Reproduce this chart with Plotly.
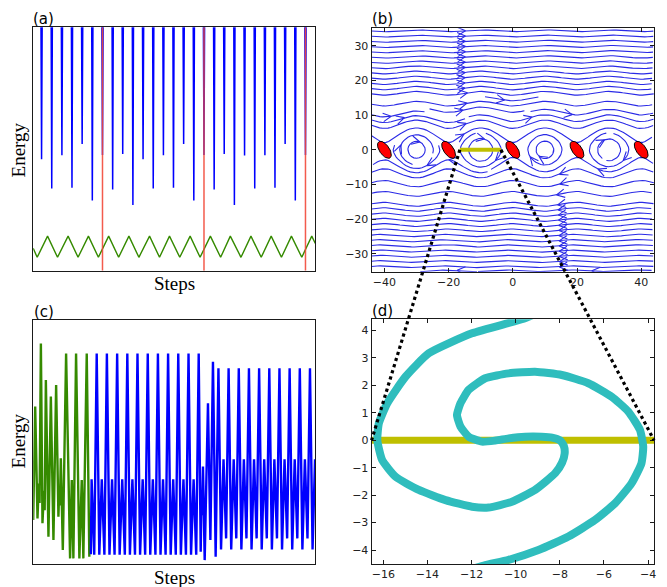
import math
import numpy as np
import plotly.graph_objects as go
import plotly.figure_factory as ff

W, H = 667, 587

# ---------------- panel (a) data ----------------
a_spike_steps = [8.4, 18.6, 28.8, 38.9, 49.1, 59.3, 69.5, 79.7, 89.8, 100.0,
                 110.2, 120.4, 130.6, 140.7, 150.9, 161.1, 171.3, 181.5, 191.6, 201.8,
                 212.0, 222.2, 232.4, 242.5, 252.7, 262.9, 273.1]
a_spike_energy = [45.8, 33.8, 47.4, 34.1, 52.1, 28.8, 47.5, 33.4, 47.9, 27.0,
                  45.8, 33.8, 47.4, 34.1, 52.1, 28.8, 47.5, 33.4, 47.9, 27.0,
                  47.3, 33.8, 47.4, 34.1, 52.1, 28.8, 47.5]
a_red_steps = [69.5, 171.3, 273.1]
a_green_steps = [0.0, 4.0, 14.4, 24.4, 35.0, 45.0, 55.4, 65.4, 75.7, 85.7, 96.0, 106.0,
                 116.7, 126.7, 136.7, 147.0, 157.4, 167.4, 177.7, 188.0, 197.7, 208.4,
                 218.4, 228.7, 238.7, 249.0, 259.0, 269.4, 279.4, 283.0]
a_green_energy = [9.2, 5.5, 14.2, 5.5, 14.2, 5.5, 14.2, 5.5, 14.2, 5.5, 14.2, 5.5,
                  14.2, 5.5, 14.2, 5.5, 14.2, 5.5, 14.2, 5.5, 14.2, 5.5,
                  14.2, 5.5, 14.2, 5.5, 14.2, 5.5, 14.2, 11.2]

# ---------------- panel (b) model ----------------
b_saddle_x = [-40, -20, 0, 20, 40]
b_saddle_y = [0, 0, 0, 0, 0]
b_half_period = 10.0
b_force = 2.8
b_segment_x = [-16.5, -3.7]
b_segment_y = [0.0, 0.0]
b_xticks = [-40, -20, 0, 20, 40]
b_yticks = [-30, -20, -10, 0, 10, 20, 30]

# ---------------- panel (c) data ----------------
c_green_steps = [0.0, 2.0, 4.3, 5.6, 6.4, 7.7, 9.3, 10.8, 11.5, 12.7, 15.3, 17.7, 20.3,
                 23.0, 25.3, 26.2, 26.8, 27.7, 29.7, 33.0, 37.0, 38.7, 40.3, 43.0, 46.3,
                 48.7, 50.3, 53.7, 56.3]
c_green_energy = [18.0, 64.5, 18.7, 33.0, 25.0, 90.4, 16.7, 30.0, 22.0, 75.4, 11.2, 68.6, 9.8,
                  73.4, 19.4, 32.0, 24.0, 43.3, 5.7, 86.3, 2.3, 34.4, 2.3, 86.3, 2.3,
                  34.4, 2.3, 86.3, 3.0]
c_blue_steps = [57.8, 58.6, 61.2, 63.7, 66.3, 68.8, 71.4, 73.9, 76.5, 79.1, 81.6, 84.2,
                86.7, 89.3, 91.9, 94.4, 97.0, 99.5, 102.1, 104.6, 107.2, 109.8, 112.3,
                114.9, 117.4, 120.0, 122.6, 125.1, 127.7, 130.2, 132.8, 135.3, 137.9,
                140.4, 143.0, 145.5, 148.1, 150.7, 153.2, 155.8, 158.3, 160.9, 163.5,
                166.0, 168.0, 168.7, 169.3, 170.3, 172.0, 175.3, 177.7, 180.3, 183.0,
                185.8, 188.4, 190.9, 193.5, 196.0, 198.6, 201.1, 203.7, 206.2, 208.8,
                211.3, 213.9, 216.4, 219.0, 221.5, 224.1, 226.6, 229.2, 231.7, 234.3,
                236.8, 239.4, 241.9, 244.5, 247.0, 249.6, 252.1, 254.7, 257.2, 259.8,
                262.3, 264.9, 267.4, 270.0, 272.5, 275.1, 277.6, 280.2, 282.7, 283.5]
c_blue_energy = [4.0, 34.7, 3.8, 86.3, 3.8, 34.7, 3.8, 86.3, 3.8, 34.7, 3.8, 86.3,
                 3.8, 34.7, 3.8, 86.3, 3.8, 34.7, 3.8, 86.3, 3.8, 34.7, 3.8,
                 86.3, 3.8, 34.7, 3.8, 86.3, 3.8, 34.7, 3.8, 86.3, 3.8,
                 34.7, 3.8, 86.3, 3.8, 34.7, 3.8, 86.3, 3.8, 34.7, 3.8,
                 86.3, 5.0, 25.0, 20.0, 39.9, 1.6, 65.9, 9.8, 82.9, 3.0,
                 80.2, 6.0, 42.9, 10.5, 80.2, 6.0, 42.9, 10.5, 80.2, 6.0,
                 42.9, 10.5, 80.2, 6.0, 42.9, 10.5, 80.2, 6.0, 42.9, 10.5,
                 80.2, 6.0, 42.9, 10.5, 80.2, 6.0, 42.9, 10.5, 80.2, 6.0,
                 42.9, 10.5, 80.2, 6.0, 42.9, 10.5, 80.2, 6.0, 42.9, 30.0]

# ---------------- panel (d) data ----------------
d_curve_x = [-9.0, -9.64, -11.98, -13.94, -14.99, -15.82, -16.2, -16.27, -16.05, -15.44,
             -14.39, -13.18, -11.98, -11.23, -10.17, -9.12, -8.21, -7.9, -7.78, -7.82,
             -8.0, -8.35, -8.82, -9.57, -10.32, -10.92, -11.53, -12.13, -12.5, -12.66,
             -12.5, -12.13, -11.38, -10.32, -9.12, -7.91, -6.71, -5.65, -4.90, -4.37,
             -4.22, -4.30, -4.75, -5.50, -6.41, -7.61, -8.97, -10.32, -11.38, -12.0]
d_curve_y = [4.65, 4.43, 3.9, 3.17, 2.32, 1.35, 0.62, 0.0, -0.72, -1.33,
             -1.81, -2.18, -2.42, -2.45, -2.24, -1.81, -1.20, -0.82, -0.48, -0.2,
             0.0, 0.1, 0.13, 0.13, 0.07, -0.01, -0.05, 0.13, 0.5, 0.92,
             1.35, 1.84, 2.26, 2.44, 2.50, 2.38, 2.08, 1.59, 1.05, 0.38,
             -0.23, -0.84, -1.57, -2.30, -2.91, -3.51, -4.0, -4.36, -4.55, -4.7]
d_xticks = [-16, -14, -12, -10, -8, -6, -4]
d_yticks = [-4, -3, -2, -1, 0, 1, 2, 3, 4]

# ---------------- layout geometry ----------------
XA = [33.3 / W, 316.3 / W]; YA = [1 - 270.7 / H, 1 - 27.3 / H]
XB = [372.7 / W, 656.0 / W]; YB = [1 - 271.7 / H, 1 - 28.3 / H]
XC = [33.3 / W, 316.3 / W]; YC = [1 - 564.0 / H, 1 - 320.0 / H]
XD = [372.7 / W, 656.0 / W]; YD = [1 - 564.0 / H, 1 - 319.3 / H]
RAX = [0, 283]; RAY = [0, 100]
RBX = [-44, 44]; RBY = [-35.2, 35.1]
RCX = [0, 283]; RCY = [0, 100]
RDX = [-16.53, -3.73]; RDY = [-4.51, 4.41]

BLUE = '#0000ff'
GREEN = '#358a00'
RED = '#f24a3a'
YEL = '#bfbf00'
CYAN = '#2fbdbd'
STREAM = '#2a2ae6'

fig = go.Figure()

# ---- (a) ----
sx, sy = [0.0], [101.0]
for s, d in zip(a_spike_steps, a_spike_energy):
    sx += [s - 0.6, s, s + 0.6]
    sy += [101.0, d, 101.0]
sx.append(283.0); sy.append(101.0)
fig.add_trace(go.Scatter(x=sx, y=sy, mode='lines', line=dict(color=BLUE, width=1.5),
                         xaxis='x', yaxis='y', hoverinfo='skip'))
fig.add_trace(go.Scatter(x=a_green_steps, y=a_green_energy, mode='lines',
                         line=dict(color=GREEN, width=1.4), xaxis='x', yaxis='y', hoverinfo='skip'))
for r in a_red_steps:
    fig.add_trace(go.Scatter(x=[r, r], y=RAY, mode='lines', line=dict(color=RED, width=1.5),
                             opacity=0.9, xaxis='x', yaxis='y', hoverinfo='skip'))

# ---- (b) streamlines of the pendulum-like flow ----
gx = np.linspace(RBX[0], RBX[1], 100)
gy = np.linspace(RBY[0], RBY[1], 100)
GX, GY = np.meshgrid(gx, gy)
U = GY
V = b_force * np.sin(np.pi * GX / b_half_period)
sl = ff.create_streamline(gx, gy, U, V, density=1.6, arrow_scale=2.8, angle=math.pi / 7)
for tr in sl.data:
    tr.update(xaxis='x2', yaxis='y2', line=dict(color=STREAM, width=1.1), hoverinfo='skip')
    fig.add_trace(tr)

fig.add_trace(go.Scatter(x=b_segment_x, y=b_segment_y, mode='lines', line=dict(color=YEL, width=4),
                         xaxis='x2', yaxis='y2', hoverinfo='skip'))

xpx = (XB[1] - XB[0]) * W / (RBX[1] - RBX[0])
ypx = (YB[1] - YB[0]) * H / (RBY[1] - RBY[0])
t = np.linspace(0, 2 * np.pi, 48)
ea, eb, th = 9.8, 4.9, math.radians(-55)
ex = ea * np.cos(t) * math.cos(th) - eb * np.sin(t) * math.sin(th)
ey = ea * np.cos(t) * math.sin(th) + eb * np.sin(t) * math.cos(th)
for cx, cy in zip(b_saddle_x, b_saddle_y):
    fig.add_trace(go.Scatter(x=cx + ex / xpx, y=cy + ey / ypx, mode='lines', fill='toself',
                             fillcolor='#ff0000', line=dict(color='#000000', width=1),
                             xaxis='x2', yaxis='y2', hoverinfo='skip'))

# ---- (c) ----
fig.add_trace(go.Scatter(x=c_green_steps, y=c_green_energy, mode='lines',
                         line=dict(color=GREEN, width=2.4), xaxis='x3', yaxis='y3', hoverinfo='skip'))
fig.add_trace(go.Scatter(x=c_blue_steps, y=c_blue_energy, mode='lines',
                         line=dict(color=BLUE, width=2.4), xaxis='x3', yaxis='y3', hoverinfo='skip'))

# ---- (d) ----
fig.add_trace(go.Scatter(x=RDX, y=[0, 0], mode='lines', line=dict(color=YEL, width=7),
                         xaxis='x4', yaxis='y4', hoverinfo='skip'))
fig.add_trace(go.Scatter(x=d_curve_x, y=d_curve_y, mode='lines',
                         line=dict(color=CYAN, width=8, shape='spline', smoothing=0.5),
                         xaxis='x4', yaxis='y4', hoverinfo='skip'))


def frame(dom, rng, anchor, **kw):
    d = dict(domain=dom, range=rng, anchor=anchor, showline=True, linecolor='#1a1a1a', linewidth=1,
             mirror=True, showgrid=False, zeroline=False, ticks='', showticklabels=False, fixedrange=True)
    d.update(kw)
    return d


tick_style = dict(ticks='inside', ticklen=4, tickwidth=1, tickcolor='#1a1a1a', mirror='ticks',
                  showticklabels=True, tickfont=dict(family='DejaVu Sans', size=11, color='#222222'),
                  tickmode='array')

fig.update_layout(
    width=W, height=H, margin=dict(l=0, r=0, t=0, b=0),
    paper_bgcolor='white', plot_bgcolor='white', showlegend=False,
    xaxis=frame(XA, RAX, 'y'), yaxis=frame(YA, RAY, 'x'),
    xaxis2=frame(XB, RBX, 'y2', tickvals=b_xticks, **tick_style),
    yaxis2=frame(YB, RBY, 'x2', tickvals=b_yticks, **tick_style),
    xaxis3=frame(XC, RCX, 'y3'), yaxis3=frame(YC, RCY, 'x3'),
    xaxis4=frame(XD, RDX, 'y4', tickvals=d_xticks, **tick_style),
    yaxis4=frame(YD, RDY, 'x4', tickvals=d_yticks, **tick_style),
)


def to_paper(xv, yv, xd, xr, yd, yr):
    return (xd[0] + (xv - xr[0]) / (xr[1] - xr[0]) * (xd[1] - xd[0]),
            yd[0] + (yv - yr[0]) / (yr[1] - yr[0]) * (yd[1] - yd[0]))


for xs, xe in zip(b_segment_x, RDX):
    p0 = to_paper(xs, 0.0, XB, RBX, YB, RBY)
    p1 = to_paper(xe, 0.0, XD, RDX, YD, RDY)
    fig.add_shape(type='line', xref='paper', yref='paper', x0=p0[0], y0=p0[1], x1=p1[0], y1=p1[1],
                  line=dict(color='black', width=3.2, dash='dot'), layer='above')

labels = [('(a)', 31.5, 19.5), ('(b)', 371.5, 19.2), ('(c)', 32.0, 311.5), ('(d)', 371.5, 310.8)]
for txt, px, py in labels:
    fig.add_annotation(text=txt, x=px / W, y=1 - py / H, xref='paper', yref='paper', xanchor='left',
                       yanchor='middle', showarrow=False, font=dict(family='DejaVu Sans', size=15, color='black'))

for py in [150.0, 441.0]:
    fig.add_annotation(text='Energy', x=18.5 / W, y=1 - py / H, xref='paper', yref='paper', textangle=-90,
                       xanchor='center', yanchor='middle', showarrow=False,
                       font=dict(family='Liberation Serif', size=19, color='black'))
for py in [284.0, 577.0]:
    fig.add_annotation(text='Steps', x=175.5 / W, y=1 - py / H, xref='paper', yref='paper',
                       xanchor='center', yanchor='middle', showarrow=False,
                       font=dict(family='Liberation Serif', size=19, color='black'))

fig.write_html('out.html', config={'displayModeBar': False},
               post_script="document.body.style.margin='0';document.body.style.overflow='hidden';")
